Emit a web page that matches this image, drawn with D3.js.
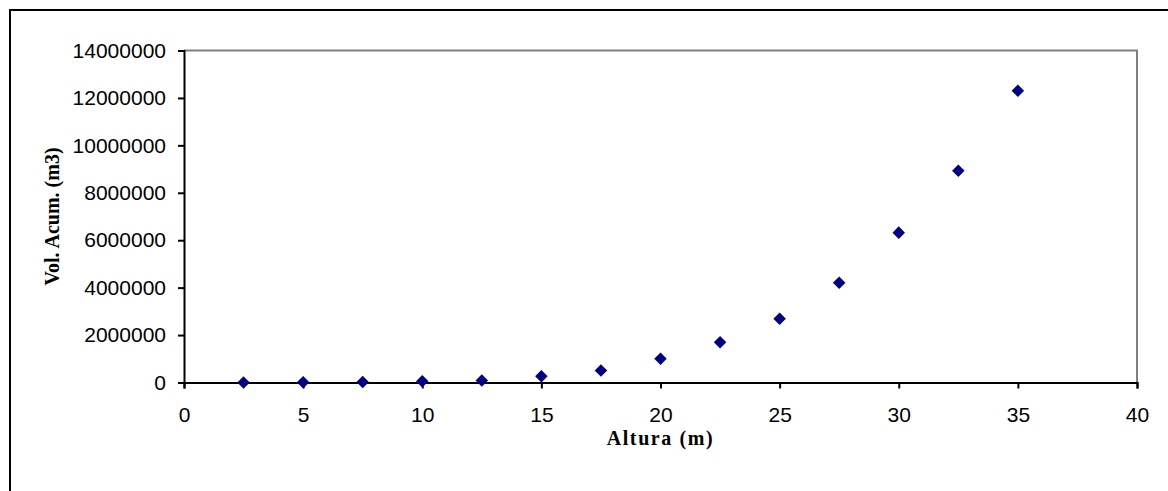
<!DOCTYPE html>
<html>
<head>
<meta charset="utf-8">
<script src="https://cdn.jsdelivr.net/npm/d3@7"></script>
<style>
  body { margin: 0; background: #fff; }
  svg { display: block; }
  .tick text { font-family: "Liberation Sans", Arial, sans-serif; font-size: 21px; fill: #000; }
  .title { font-family: "Liberation Serif", "Times New Roman", serif; font-weight: bold; font-size: 20px; fill: #000; }
</style>
</head>
<body>
<div id="chart"></div>
<script>
// Altura (m) vs Vol. Acum. (m3)
const altura = [2.5, 5, 7.5, 10, 12.5, 15, 17.5, 20, 22.5, 25, 27.5, 30, 32.5, 35];
const volAcum = [0, 10000, 20000, 55000, 85000, 260000, 510000, 1000000, 1700000, 2690000, 4210000, 6320000, 8930000, 12300000];
const xTicks = d3.range(0, 41, 5);
const yTicks = d3.range(0, 14000001, 2000000);

const width = 1168, height = 491;
const margin = { top: 50.5, right: 31, bottom: 108.5, left: 184 };

const svg = d3.select("#chart").append("svg")
  .attr("width", width)
  .attr("height", height);

// outer chart border (runs off the right/bottom of the picture)
svg.append("rect")
  .attr("x", 10).attr("y", 10)
  .attr("width", 1200).attr("height", 520)
  .attr("fill", "none")
  .attr("stroke", "#000")
  .attr("stroke-width", 2);

const x = d3.scaleLinear().domain([0, 40]).range([margin.left, width - margin.right]);
const y = d3.scaleLinear().domain([0, 14000000]).range([height - margin.bottom, margin.top]);

// plot frame: gray top/right
svg.append("path")
  .attr("d", `M${x(0)},${y(14000000)}H${x(40)}V${y(0)}`)
  .attr("fill", "none")
  .attr("stroke", "#808080")
  .attr("stroke-width", 2);

svg.append("g")
  .attr("transform", `translate(0,${y(0)})`)
  .call(d3.axisBottom(x).tickValues(xTicks).tickSize(6).tickPadding(19).tickFormat(d3.format("d")))
  .call(g => g.select(".domain").attr("stroke", "#000").attr("stroke-width", 2))
  .call(g => g.selectAll(".tick line").attr("stroke", "#000").attr("stroke-width", 2));

svg.append("g")
  .attr("transform", `translate(${x(0)},0)`)
  .call(d3.axisLeft(y).tickValues(yTicks).tickSize(6).tickPadding(12).tickFormat(d3.format("d")))
  .call(g => g.select(".domain").attr("stroke", "#000").attr("stroke-width", 2))
  .call(g => g.selectAll(".tick line").attr("stroke", "#000").attr("stroke-width", 2));

svg.append("g")
  .selectAll("path")
  .data(altura.map((a, i) => [a, volAcum[i]]))
  .join("path")
  .attr("d", d3.symbol().type(d3.symbolDiamond2).size(100))
  .attr("transform", d => `translate(${x(d[0])},${y(d[1])})`)
  .attr("fill", "#000080");

svg.append("text")
  .attr("class", "title")
  .attr("x", (x(0) + x(40)) / 2)
  .attr("y", 445)
  .attr("text-anchor", "middle")
  .attr("letter-spacing", "1.6px")
  .text("Altura (m)");

svg.append("text")
  .attr("class", "title")
  .attr("transform", `translate(59,${(y(0) + y(14000000)) / 2}) rotate(-90)`)
  .attr("text-anchor", "middle")
  .attr("letter-spacing", "0px")
  .text("Vol. Acum. (m3)");
</script>
</body>
</html>
